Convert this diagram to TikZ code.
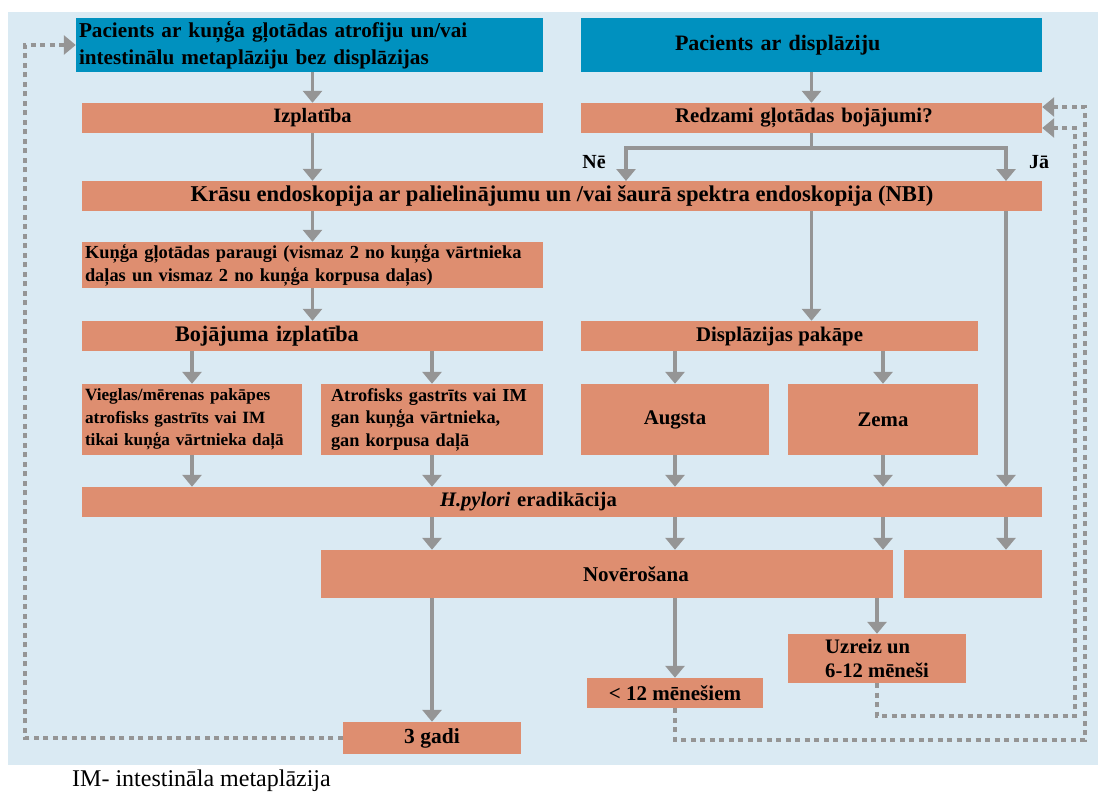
\documentclass[tikz,border=0pt]{standalone}
\usepackage{fontspec}
\setmainfont{Liberation Serif}
\usetikzlibrary{arrows.meta,positioning,calc}
\definecolor{PBlue}{HTML}{0091BF}
\definecolor{POrange}{HTML}{DE8E70}
\definecolor{PPale}{HTML}{DAEAF3}
\definecolor{PGray}{HTML}{959595}
\newcommand{\fs}[2]{\fontsize{#1}{#2}\selectfont\bfseries}
\tikzset{
  bluebox/.style={fill=PBlue,inner xsep=5pt,inner ysep=0pt,font=\fs{22}{27}},
  orbox/.style={fill=POrange,inner xsep=5pt,inner ysep=0pt,font=\fs{20.8}{24}},
  flow/.style={draw=PGray,line width=3.8pt,-{Triangle[width=19pt,length=12pt]}},
  back/.style={draw=PGray,line width=3.8pt,dash pattern=on 5pt off 4.5pt,
    -{Triangle[width=19pt,length=12pt]}},
  lbl/.style={font=\fs{20}{24}}}

\begin{document}
\begin{tikzpicture}[x=1pt,y=-1pt]
  \useasboundingbox (0,0) rectangle (1100,792);
  \fill[PPale] (8,12) rectangle (1098,765);
  % top
  \node[bluebox,minimum width=467pt,minimum height=54pt,inner xsep=3pt,text width=461pt,align=left,
    font=\fs{21.2}{27}]
    (pat1) at (309.5,45) {Pacients ar kuņģa gļotādas atrofiju un/vai\\intestinālu metaplāziju bez displāzijas};
  \node[bluebox,minimum width=461pt,minimum height=54pt,text width=451pt,align=left]
    (pat2) at (811.5,45) {\hspace*{89pt}Pacients ar displāziju};
  \node[orbox,minimum width=461pt,minimum height=30pt,font=\fs{20.4}{24}] (izpl) at (312.5,118) {Izplatība};
  \node[orbox,minimum width=461pt,minimum height=30pt,text width=451pt,align=left]
    (redz) at (811.5,118) {\hspace*{89pt}Redzami gļotādas bojājumi?};
  \node[lbl] (ne) at (594,162) {Nē};
  \node[lbl] (ja) at (1039,162) {Jā};
  \node[orbox,minimum width=960pt,minimum height=30pt,font=\fs{22.6}{26}]
    (endo) at (562,196) {Krāsu endoskopija ar palielinājumu un /vai šaurā spektra endoskopija (NBI)};
  % left branch
  \node[orbox,minimum width=461pt,minimum height=46pt,inner xsep=3pt,text width=455pt,align=left,
    font=\fs{18.4}{23}]
    (parau) at (312.5,265) {Kuņģa gļotādas paraugi (vismaz 2 no kuņģa vārtnieka\\daļas un vismaz 2 no kuņģa korpusa daļas)};
  \node[orbox,minimum width=461pt,minimum height=30pt,text width=451pt,align=left,font=\fs{22.2}{26}]
    (boj) at (312.5,336) {\hspace*{88pt}Bojājuma izplatība};
  \node[orbox,minimum width=220pt,minimum height=71pt,inner xsep=3pt,text width=214pt,align=left,
    font=\fs{17.2}{22.5}]
    (vieg) at (192,419.5) {Vieglas/mērenas pakāpes\\atrofisks gastrīts vai IM\\tikai kuņģa vārtnieka daļā};
  \node[orbox,minimum width=222pt,minimum height=71pt,inner xsep=10pt,text width=202pt,align=left,
    font=\fs{18.3}{22.5}]
    (atro) at (432,419.5) {Atrofisks gastrīts vai IM\\gan kuņģa vārtnieka,\\gan korpusa daļā};
  % right branch
  \node[orbox,minimum width=397pt,minimum height=30pt] (disp) at (779.5,336) {Displāzijas pakāpe};
  \node[orbox,minimum width=188pt,minimum height=71pt] (augs) at (675,419.5) {Augsta};
  \node[orbox,minimum width=190pt,minimum height=71pt] (zema) at (883,419.5) {Zema};
  \node[orbox,minimum width=960pt,minimum height=30pt,text width=950pt,align=left,font=\fs{20.6}{24}]
    (hpyl) at (562,502) {\hspace*{353pt}\textit{H.pylori} eradikācija};
  % follow-up
  \node[orbox,minimum width=572pt,minimum height=48pt,text width=562pt,align=left,font=\fs{21}{24}]
    (novr) at (607,574) {\hspace*{257pt}Novērošana};
  \node[orbox,minimum width=138pt,minimum height=48pt] (blank) at (973,574) {};
  \node[orbox,minimum width=178pt,minimum height=49pt,align=left,font=\fs{20.6}{24}]
    (uzr) at (877,658.5) {Uzreiz un\\6-12 mēneši};
  \node[orbox,minimum width=176pt,minimum height=30pt,font=\fs{21}{24}]
    (m12) at (675,693) {< 12 mēnešiem};
  \node[orbox,minimum width=178pt,minimum height=32pt,font=\fs{21.5}{24}]
    (gadi) at (432,738) {3 gadi};
  \node[anchor=west,inner sep=0pt,font=\fontsize{24}{28}\selectfont] (foot) at (72,781) {IM- intestināla metaplāzija};
  % helper points
  \coordinate (fork) at ($(redz.south)+(0,15)$);
  \coordinate (neX) at (626,181);
  \coordinate (jaX) at (1006,181);
  \coordinate (lft) at (25,0);
  \coordinate (rt1) at (1085,740);
  \coordinate (rt2) at (1075,716);
  % arrows
  \draw[flow] (pat1.south -| izpl.north) -- (izpl.north);
  \draw[flow] (pat2.south) -- (redz.north);
  \draw[flow] (redz.south) -- (fork) -| (neX);
  \draw[flow] (fork) -| (jaX);
  \draw[flow] (izpl.south) -- (izpl.south |- endo.north);
  \draw[flow] (parau.north |- endo.south) -- (parau.north);
  \draw[flow] (parau.south) -- (boj.north);
  \draw[flow] (endo.south -| redz.south) -- (disp.north -| redz.south);
  \draw[flow] (endo.south -| jaX) -- (hpyl.north -| jaX);
  \draw[flow] (vieg.north |- boj.south) -- (vieg.north);
  \draw[flow] (atro.north |- boj.south) -- (atro.north);
  \draw[flow] (augs.north |- disp.south) -- (augs.north);
  \draw[flow] (zema.north |- disp.south) -- (zema.north);
  \foreach \b in {vieg,atro,augs,zema}
    \draw[flow] (\b.south) -- (\b.south |- hpyl.north);
  \foreach \b in {atro,augs,zema}
    \draw[flow] (\b.south |- hpyl.south) -- (\b.south |- novr.north);
  \draw[flow] (jaX |- hpyl.south) -- (jaX |- blank.north);
  \draw[flow] (gadi.north |- novr.south) -- (gadi.north);
  \draw[flow] (m12.north |- novr.south) -- (m12.north);
  \draw[flow] (uzr.north |- novr.south) -- (uzr.north);
  % loops back
  \draw[back] (gadi.west) -- (gadi.west -| lft) |- (pat1.west);
  \draw[back] (m12.south) |- (rt1) |- ([yshift=11pt]redz.east);
  \draw[back] (uzr.south) |- (rt2) |- ([yshift=-10pt]redz.east);
\end{tikzpicture}
\end{document}
